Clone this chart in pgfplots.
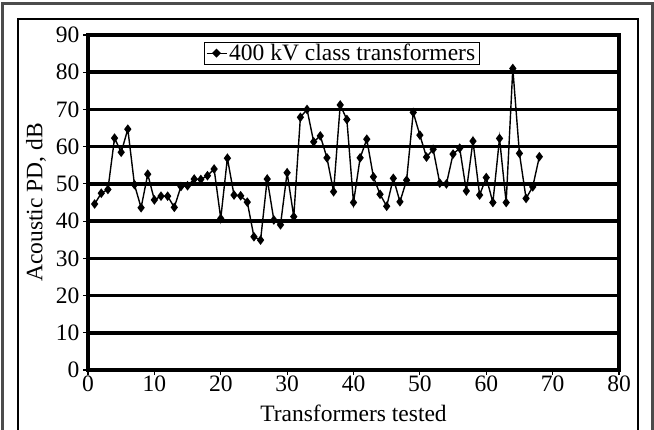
\documentclass[border=0pt]{standalone}
\usepackage{fontspec}
\setmainfont{Liberation Serif}
\usepackage{pgfplots}
\pgfplotsset{compat=1.18}

\pgfplotstableread{
x y
1 44.6
2 47.5
3 48.5
4 62.3
5 58.5
6 64.7
7 49.8
8 43.6
9 52.6
10 45.7
11 46.7
12 46.7
13 43.7
14 49.3
15 49.5
16 51.3
17 51.2
18 52.2
19 54.0
20 40.7
21 56.9
22 47.0
23 46.8
24 45.1
25 35.8
26 34.9
27 51.3
28 40.3
29 39.0
30 53.0
31 41.2
32 67.9
33 70.0
34 61.3
35 62.9
36 57.0
37 47.9
38 71.2
39 67.3
40 45.0
41 57.0
42 62.0
43 51.9
44 47.2
45 44.0
46 51.5
47 45.2
48 51.0
49 69.2
50 63.1
51 57.2
52 59.3
53 50.2
54 50.0
55 58.0
56 59.6
57 48.1
58 61.5
59 47.0
60 51.7
61 45.0
62 62.2
63 45.0
64 81.0
65 58.2
66 46.1
67 49.2
68 57.3
}\pdtable

\newcommand{\bigfont}{\fontsize{23.5bp}{26bp}\selectfont}

\begin{document}
\begin{tikzpicture}
% frames round the whole picture (bottom edge cut off, as in the scan)
\draw[line width=3bp, black!70] (2bp,-10bp) -- (2bp,426bp) -- (652bp,426bp) -- (652bp,-10bp);
\draw[line width=1.8bp, black] (18bp,-10bp) -- (18bp,411bp) -- (638bp,411bp) -- (638bp,-10bp);
\begin{axis}[
  at={(88bp,60bp)}, anchor=south west,
  scale only axis,
  width=531bp, height=335bp,
  xmin=0, xmax=80, ymin=0, ymax=90,
  xtick={0,10,...,80}, ytick={0,10,...,90},
  tick align=outside,
  major tick length=5bp,
  tick style={black, line width=1.2bp},
  xtick pos=bottom, ytick pos=left,
  axis line style={black, line width=3.5bp},
  ymajorgrids,
  major grid style={black, line width=3.5bp},
  /pgf/number format/assume math mode=true,
  tick label style={font=\bigfont},
  label style={font=\bigfont},
  xticklabel style={yshift=3bp},
  yticklabel style={xshift=0bp},
  xlabel={Transformers tested},
  ylabel={Acoustic PD, dB},
  xlabel style={at={(axis description cs:0.5,-0.128)}, anchor=center},
  ylabel style={at={(axis description cs:-0.098,0.5)}, anchor=center},
  legend style={at={(axis cs:38.2,88.2)}, anchor=north, draw=black, line width=0.8bp,
    font=\bigfont, inner xsep=2bp, inner ysep=0bp},
  legend cell align=left,
  legend image code/.code={
    \draw[black, line width=1.2bp] (0bp,0bp) -- (20bp,0bp);
    \fill[black] (10bp,3.5bp) -- (13.5bp,0bp) -- (10bp,-3.5bp) -- (6.5bp,0bp) -- cycle;
  },
]
\addplot[black, line width=1.4bp, mark=diamond*, mark size=3.7bp, mark options={solid}] table[x=x, y=y] {\pdtable};
\addlegendentry{400 kV class transformers}
\end{axis}
\pgfresetboundingbox
\path[use as bounding box] (0,0) rectangle (654bp,430bp);
\end{tikzpicture}
\end{document}
